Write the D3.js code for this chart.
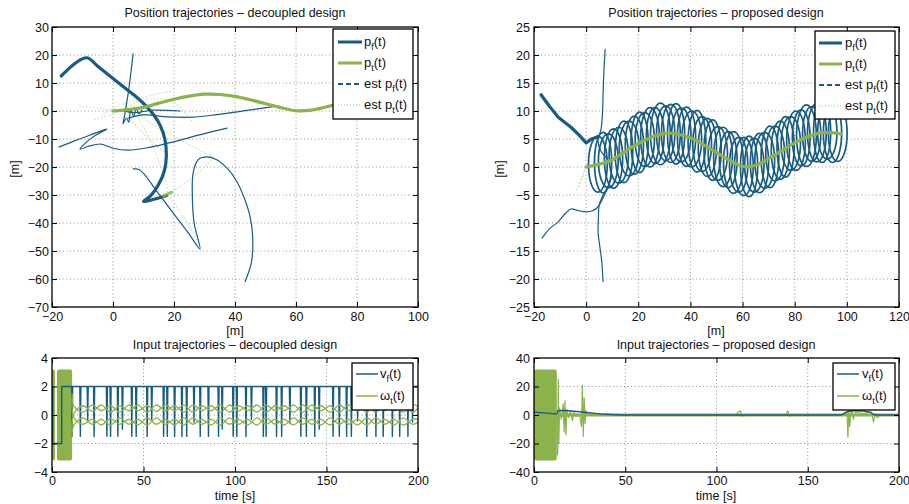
<!DOCTYPE html>
<html>
<head>
<meta charset="utf-8">
<script src="https://cdn.jsdelivr.net/npm/d3@7"></script>
<style>
body{margin:0;background:#fff;}
text{font-family:"Liberation Sans",Arial,Helvetica,sans-serif;fill:#111;}
</style>
</head>
<body>
<div id="plot"></div>
<script>
var blue = "#185c84", green = "#8cb24b", paleGreen = "#d3e2b0";

// ---- position data [m] ----
var ptX = [0,5,10,15,20,25,30,35,40,45,50,55,60,65,70,75,80,85,90,95,97.8];
var ptY = [0,0.5,1.3,2.8,4.2,5.3,6.0,5.9,5.2,4.0,2.6,1.2,0.1,0.3,1.5,2.9,4.3,5.4,6.1,6.1,5.9];

var decoupledPf = [[-17,12.5],[-15,14.6],[-13,16.5],[-11,18.1],[-8.5,19],[-4.5,15.5],[-1,12.5],[3,9],[7,5.6],[11,1.6],[13.5,-1.6],[15.5,-5.2],[17,-10],[17.5,-16],[16.8,-21.5],[14.8,-26.5],[12.3,-30.3],[10,-32.3],[12.5,-31.8],[15.3,-31],[17.6,-30.2]];
var decoupledEstPf = [
  [[6.6,20.4],[5.9,14],[5.2,8],[4.5,3],[3.9,-1],[3.3,-4.6],[4.4,-2.5],[5.2,-4],[5.8,0.5],[6.8,-2],[7.6,1.2],[8.4,-1],[9.5,0.3]],
  [[2.5,0.3],[7,-0.6],[13,0.3],[22,0]],
  [[5,-2.6],[10,-1.4],[18,-2.1],[26,-2.2],[34,-1.3],[44,0.2],[54,1.8]],
  [[-17.7,-12.9],[-12,-10.4],[-6,-8],[-2,-6.4],[-7,-9.6],[-10.8,-13.6],[-8,-12.6],[-4,-11.8],[0,-13.3],[5,-14],[12,-13],[20,-11],[28,-8.6],[37.4,-6.1]],
  [[6.6,-20.7],[8.5,-20.9],[10,-22.3],[15,-29.6],[20,-36.8],[25,-44],[28.5,-49.3],[26.6,-40],[26,-30],[26.3,-22],[28,-17.3],[31,-16.4],[34,-17.4],[37.5,-20.5],[40.5,-25],[43,-31],[45,-38],[45.8,-45],[45.4,-54],[43.3,-61]]
];
var decoupledEstPt = [
  [[-11,1.8],[-4,0.8],[2,0.2],[6,0]],
  [[-3,-1],[2,2],[8,4],[14,6],[19,7]],
  [[4,3],[6,-3],[10,-8],[14,-12],[17,-15]],
  [[6,2],[12,-4],[18,-8],[25,-12],[33,-16.7]],
  [[8,-2],[12,-10],[15,-18],[17,-24],[18,-30]],
  [[33,-16.7],[28,-22],[22,-27],[18,-30]],
  [[18,-30],[22,-36],[25,-41],[27.5,-46]],
  [[-6,-3],[0,-1],[4,1],[10,4],[20,3],[26,-4]]
];
var decoupledEstPtBlob = [[16.5,-30.4],[18,-29.6],[19.2,-29]];

var proposedPf = [[-17.3,12.9],[-14,10.8],[-10.7,8.9],[-5.8,7.1],[-2.5,5.6],[0,4.3],[2,5],[4.6,5.4]];
var proposedEstPf = [
  [[7.3,21],[6.8,17],[6.5,13],[6.2,9],[5.6,6.5],[4.5,5],[5.5,3],[8,1.5]],
  [[6.5,-20.5],[6,-17],[5.2,-14],[4.6,-11.8],[4.7,-9],[5,-6.8],[6.5,-5],[8.4,-3.5],[10,-1.5]],
  [[-16.9,-12.7],[-14,-11],[-10.7,-9.8],[-8,-8.3],[-5.8,-7.5],[-3,-7.8],[0,-8],[2.5,-7.8],[4.6,-7.1],[6.5,-5.5],[8.4,-3.5]]
];
var proposedEstPt = [[[-3.8,-4.1],[-1.5,-1.6],[0.5,0.4],[1.9,1.3]],[[-2.5,-3.5],[-0.5,-0.5],[1,0.5]]];
// follower loops around the target path
var loopX = [4.5,6.5,8.5,10.5,12.5,14.5,16.5,18.5,20.5,22.5,24.5,26.5,28.5,30.5,32.5,34.5,36.5,38.5,40.5,42.5,44.5,46.5,48.5,50.5,52.5,54.5,56.5,58.5,60.5,62.5,64.5,66.5,68.5,70.5,72.5,74.5,76.5,78.5,80.5,82.5,84.5,86.5,88.5,90.5,92.5,94.5,96.5];
var loopY = [0.5,0.8,1.1,1.5,2.1,2.7,3.3,3.9,4.4,4.9,5.3,5.6,5.9,6.0,6.0,5.9,5.7,5.4,5.0,4.6,4.1,3.5,3.0,2.4,1.8,1.3,0.8,0.4,0.1,0.1,0.3,0.7,1.2,1.8,2.4,3.0,3.6,4.2,4.7,5.2,5.6,5.9,6.1,6.2,6.2,6.1,6.0];
var loopRy = [5.0,5.4,4.8,5.3,5.0,5.5,4.9,5.2,5.4,4.8,5.3,5.0,5.5,4.9,5.2,5.4,4.8,5.3,5.0,5.5,4.9,5.2,5.4,4.8,5.3,5.0,5.5,4.9,5.2,5.4,4.8,5.3,5.0,5.5,4.9,5.2,5.4,4.8,5.3,5.0,5.5,4.9,5.2,5.4,4.8,5.3,5.0];
var loopRx = [3.6,3.3,3.8,3.5,3.7,3.4,3.8,3.5,3.3,3.7,3.6,3.4,3.8,3.5,3.6,3.3,3.7,3.5,3.8,3.4,3.6,3.5,3.3,3.7,3.6,3.4,3.8,3.5,3.6,3.3,3.7,3.5,3.8,3.4,3.6,3.5,3.3,3.7,3.6,3.4,3.8,3.5,3.6,3.3,3.7,3.5,3.6];

// ---- input data ----
var decoupledBlocks = [[0,1.6],[2.7,11]];
var decoupledOmegaAmp = 3.2;
var vfStart = [[0,2],[0.4,2],[0.4,-2],[5.3,-2],[5.3,2],[10.3,2]];
var vfSpikeT = [11,15.5,19.5,23,30,32,36,38.5,43.6,46,52,54.5,61,63,67,71,73.6,77.6,81,85.5,91,93,99,101,106,109,115.5,117,122.7,125.5,130,136,139,143.6,146,153.6,157,161,163.6,167,172,177,181,186,190,194.5,197];
var vfSpikeDepth = [-1.5,-1.5,-0.4,-1.5,-1.5,-1.5,-1.5,-1.0,-1.5,-1.5,-1.5,-0.3,-1.5,-1.5,-1.5,-1.5,-1.5,-0.5,-1.5,-1.5,-1.5,-1.0,-1.5,-1.5,-1.5,-0.3,-1.5,-1.5,-1.5,-1.5,-0.6,-1.5,-1.5,-1.5,-1.0,-1.5,-1.5,-1.5,-1.5,-0.4,-1.5,-1.5,-1.5,-1.5,-1.5,-1.5,-0.5];
var omegaT = [11,12,17,22,27,32,37,42,47,52,57,62,67,72,77,82,87,92,97,102,107,112,117,122,127,132,137,142,147,152,157,162,167,172,177,182,187,192,197,200];
var omegaA = [1.5,0.6,0.2,0.7,0.3,0.65,0.2,0.7,0.3,0.65,0.25,0.7,0.3,0.7,0.2,0.65,0.3,0.7,0.2,0.65,0.3,0.7,0.2,0.65,0.3,0.7,0.2,0.7,0.3,0.65,0.2,0.7,0.3,0.65,0.2,0.7,0.3,0.65,0.2,0.5];
var omegaB = [-1.5,0.1,0.65,0.25,0.7,0.2,0.65,0.3,0.7,0.2,0.7,0.3,0.65,0.2,0.7,0.3,0.65,0.2,0.7,0.3,0.65,0.2,0.7,0.3,0.65,0.2,0.7,0.3,0.65,0.2,0.7,0.3,0.65,0.2,0.7,0.3,0.65,0.2,0.7,0.6];
var omegaC = [1.2,-0.2,-0.65,-0.3,-0.7,-0.25,-0.65,-0.3,-0.7,-0.2,-0.65,-0.3,-0.7,-0.2,-0.65,-0.3,-0.7,-0.2,-0.65,-0.3,-0.7,-0.2,-0.65,-0.3,-0.7,-0.2,-0.65,-0.3,-0.7,-0.2,-0.65,-0.3,-0.7,-0.2,-0.65,-0.3,-0.7,-0.2,-0.65,-0.5];
var omegaD = [-1.2,-0.7,-0.2,-0.65,-0.3,-0.7,-0.2,-0.65,-0.3,-0.7,-0.2,-0.65,-0.3,-0.7,-0.2,-0.65,-0.3,-0.7,-0.2,-0.65,-0.3,-0.7,-0.2,-0.65,-0.3,-0.7,-0.2,-0.65,-0.3,-0.7,-0.2,-0.65,-0.3,-0.7,-0.2,-0.65,-0.3,-0.7,-0.3,-0.3];

var proposedBlock = [0,12.5];
var proposedOmegaAmp = 32;
var proposedOmega = [[12.5,0],[13,-28],[13.3,25],[13.6,-20],[14,5],[15,-3],[16,8],[16.5,-12],[17,10],[17.5,-14],[18,4],[19,-2],[20,3],[21,-4],[22,2],[23,-1],[25,0],[26,-8],[26.5,21],[27,-15],[27.5,12],[28,-6],[28.5,3],[29,0],[110,0],[113,3],[114,-1],[115,0],[138,0],[139,3],[140,-1],[141,0],[170,0],[171.5,2],[172,-15.5],[172.5,3],[173,-8],[174,5],[175,-3],[176,2],[180,1],[185,2],[186,-5],[187,1],[188,-2],[190,0],[200,0]];
var proposedOmegaBand = [[12.5,1.2],[30,1],[200,1]];
var proposedVf = [[0,2],[5,1.5],[10,1],[12.5,0.8],[13,3],[16,3.2],[20,2.8],[25,2.3],[30,1.6],[35,1],[40,0.5],[45,0.2],[50,0],[168,0],[172,2.5],[176,3],[180,2.8],[184,2],[187,0],[200,0]];

var timeTicks = [0,50,100,150,200];

var svg = d3.select("#plot").append("svg").attr("width", 909).attr("height", 504);
var clipId = 0;

function panel(left, top, w, h, xDom, yDom, xTicks, yTicks) {
  var g = svg.append("g").attr("transform", "translate(" + left + "," + top + ")");
  var x = d3.scaleLinear().domain(xDom).range([0, w]);
  var y = d3.scaleLinear().domain(yDom).range([h, 0]);
  g.append("rect").attr("width", w).attr("height", h).attr("fill", "#fff");
  var grid = g.append("g").attr("stroke", "#777").attr("stroke-width", 0.8).attr("stroke-dasharray", "1,2.6");
  grid.selectAll(".gx").data(xTicks.slice(1, -1)).enter().append("line")
    .attr("x1", function(d){ return x(d); }).attr("x2", function(d){ return x(d); })
    .attr("y1", 0).attr("y2", h);
  grid.selectAll(".gy").data(yTicks.slice(1, -1)).enter().append("line")
    .attr("y1", function(d){ return y(d); }).attr("y2", function(d){ return y(d); })
    .attr("x1", 0).attr("x2", w);
  clipId++;
  g.append("clipPath").attr("id", "c" + clipId).append("rect").attr("width", w).attr("height", h);
  var plot = g.append("g").attr("clip-path", "url(#c" + clipId + ")");
  return {g: g, plot: plot, x: x, y: y, w: w, h: h, xTicks: xTicks, yTicks: yTicks};
}

function axes(p, xPad, yPad) {
  var fmt = d3.format("d");
  var bx = p.g.append("g").attr("transform", "translate(0," + p.h + ")")
    .call(d3.axisBottom(p.x).tickValues(p.xTicks).tickSizeInner(-5).tickSizeOuter(0).tickPadding(xPad).tickFormat(fmt));
  var ly = p.g.append("g")
    .call(d3.axisLeft(p.y).tickValues(p.yTicks).tickSizeInner(-5).tickSizeOuter(0).tickPadding(yPad).tickFormat(fmt));
  var tx = p.g.append("g")
    .call(d3.axisTop(p.x).tickValues(p.xTicks).tickSizeInner(-5).tickSizeOuter(0).tickFormat(""));
  var ry = p.g.append("g").attr("transform", "translate(" + p.w + ",0)")
    .call(d3.axisRight(p.y).tickValues(p.yTicks).tickSizeInner(-5).tickSizeOuter(0).tickFormat(""));
  [bx, ly, tx, ry].forEach(function(a){
    a.select(".domain").remove();
    a.selectAll("line").attr("stroke", "#000");
    a.selectAll("text").style("font-size", "12.5px").attr("fill", "#111")
      .style("font-family", "'Liberation Sans', Arial, sans-serif");
  });
  p.g.append("rect").attr("width", p.w).attr("height", p.h)
    .attr("fill", "none").attr("stroke", "#000").attr("stroke-width", 1.3);
}

function pathOn(p, pts, color, width, curve) {
  var line = d3.line().x(function(d){ return p.x(d[0]); }).y(function(d){ return p.y(d[1]); })
    .curve(curve || d3.curveLinear);
  return p.plot.append("path").attr("d", line(pts)).attr("fill", "none")
    .attr("stroke", color).attr("stroke-width", width)
    .attr("stroke-linejoin", "round").attr("stroke-linecap", "round");
}

function legend(x0, y0, w, h, rows, lineX0, lineX1, textX, fontSize) {
  var lg = svg.append("g");
  lg.append("rect").attr("x", x0).attr("y", y0).attr("width", w).attr("height", h)
    .attr("fill", "#fff").attr("stroke", "#000").attr("stroke-width", 1.3);
  rows.forEach(function(r){
    lg.append("line").attr("x1", lineX0).attr("x2", lineX1).attr("y1", r.y).attr("y2", r.y)
      .attr("stroke", r.color).attr("stroke-width", r.width)
      .attr("stroke-dasharray", r.dash || null);
    var t = lg.append("text").attr("x", textX).attr("y", r.y + 4).style("font-size", fontSize + "px");
    t.append("tspan").text(r.text[0]);
    t.append("tspan").attr("dy", 4).style("font-size", (fontSize - 4) + "px").text(r.text[1]);
    t.append("tspan").attr("dy", -4).text(r.text[2]);
  });
}

function title(x, y, str) {
  svg.append("text").attr("x", x).attr("y", y).attr("text-anchor", "middle")
    .style("font-size", "12.5px").text(str);
}

// ---------- top left ----------
var tl = panel(52, 27, 366, 280, [-20, 100], [-70, 30],
  [-20,0,20,40,60,80,100], [-70,-60,-50,-40,-30,-20,-10,0,10,20,30]);
decoupledEstPt.forEach(function(s){ pathOn(tl, s, paleGreen, 1.1, d3.curveCatmullRom).attr("stroke-dasharray", "1,2.5"); });
decoupledEstPf.forEach(function(s){ pathOn(tl, s, blue, 1.2, d3.curveCatmullRom); });
pathOn(tl, decoupledPf, blue, 3.2, d3.curveCatmullRom);
pathOn(tl, d3.zip(ptX, ptY), green, 3.2, d3.curveCatmullRom);
pathOn(tl, decoupledEstPtBlob, green, 3, d3.curveLinear).attr("stroke-opacity", 0.8);
axes(tl, 5, 3);

// ---------- top right ----------
var tr = panel(534, 27, 365, 280, [-20, 120], [-25, 25],
  [-20,0,20,40,60,80,100,120], [-25,-20,-15,-10,-5,0,5,10,15,20,25]);
proposedEstPt.forEach(function(s){ pathOn(tr, s, paleGreen, 1.1).attr("stroke-dasharray", "1,2.5"); });
proposedEstPf.forEach(function(s){ pathOn(tr, s, blue, 1.2, d3.curveCatmullRom); });
tr.plot.append("g").selectAll("ellipse").data(d3.range(loopX.length)).enter().append("ellipse")
  .attr("cx", function(i){ return tr.x(loopX[i]); })
  .attr("cy", function(i){ return tr.y(loopY[i]); })
  .attr("rx", function(i){ return tr.x(loopRx[i]) - tr.x(0); })
  .attr("ry", function(i){ return tr.y(0) - tr.y(loopRy[i]); })
  .attr("fill", "none").attr("stroke", blue).attr("stroke-width", 1.7);
pathOn(tr, proposedPf, blue, 3.2);
pathOn(tr, d3.zip(ptX, ptY), green, 3.2, d3.curveCatmullRom);
axes(tr, 5, 4);

// ---------- bottom left ----------
var bl = panel(52, 358, 366, 114, [0, 200], [-4, 4], timeTicks, [-4,-2,0,2,4]);
bl.plot.append("g").selectAll("rect").data(decoupledBlocks).enter().append("rect")
  .attr("x", function(d){ return bl.x(d[0]); })
  .attr("width", function(d){ return bl.x(d[1]) - bl.x(d[0]); })
  .attr("y", bl.y(decoupledOmegaAmp))
  .attr("height", bl.y(-decoupledOmegaAmp) - bl.y(decoupledOmegaAmp))
  .attr("rx", 2).attr("fill", green);
var vfPts = vfStart.slice();
vfSpikeT.forEach(function(t, i){
  vfPts.push([t - 0.3, 2], [t, vfSpikeDepth[i]], [t + 0.3, 2]);
});
vfPts.push([200, 2]);
pathOn(bl, vfPts, blue, 1.4);
[omegaA, omegaB, omegaC, omegaD].forEach(function(s){
  pathOn(bl, d3.zip(omegaT, s), green, 1.3, d3.curveCatmullRom);
});
axes(bl, 4, 4);

// ---------- bottom right ----------
var br = panel(534, 358, 365, 114, [0, 200], [-40, 40], timeTicks, [-40,-20,0,20,40]);
br.plot.append("rect")
  .attr("x", br.x(proposedBlock[0])).attr("width", br.x(proposedBlock[1]) - br.x(proposedBlock[0]))
  .attr("y", br.y(proposedOmegaAmp)).attr("height", br.y(-proposedOmegaAmp) - br.y(proposedOmegaAmp))
  .attr("rx", 2).attr("fill", green);
br.plot.append("path")
  .attr("d", d3.area().x(function(d){ return br.x(d[0]); })
    .y0(function(d){ return br.y(-d[1]); }).y1(function(d){ return br.y(d[1]); })(proposedOmegaBand))
  .attr("fill", green);
pathOn(br, proposedOmega, green, 1.2);
pathOn(br, proposedVf, blue, 1.4, d3.curveMonotoneX);
axes(br, 4, 4);

// ---------- texts ----------
title(235, 17, "Position trajectories \u2013 decoupled design");
title(716, 17, "Position trajectories \u2013 proposed design");
title(235, 349, "Input trajectories \u2013 decoupled design");
title(716, 349, "Input trajectories \u2013 proposed design");
title(235, 335, "[m]");
title(716, 335, "[m]");
title(235, 500, "time [s]");
title(716, 500, "time [s]");
svg.append("text").attr("transform", "translate(19,169) rotate(-90)").attr("text-anchor", "middle")
  .style("font-size", "12.5px").text("[m]");
svg.append("text").attr("transform", "translate(504,169) rotate(-90)").attr("text-anchor", "middle")
  .style("font-size", "12.5px").text("[m]");

// ---------- legends ----------
var posRows = function(y0){
  return [
    {y: y0, color: blue, width: 3, text: ["p", "f", "(t)"]},
    {y: y0 + 21, color: green, width: 3, text: ["p", "t", "(t)"]},
    {y: y0 + 42, color: blue, width: 2, dash: "5,3", text: ["est p", "f", "(t)"]},
    {y: y0 + 63, color: paleGreen, width: 2, dash: "1,2", text: ["est p", "t", "(t)"]}
  ];
};
legend(333, 29, 80, 90, posRows(42), 338, 362, 364, 13);
legend(815, 31, 80, 88, posRows(43), 819, 842, 845, 13);
var inRows = function(y0){
  return [
    {y: y0, color: blue, width: 1.5, text: ["v", "f", "(t)"]},
    {y: y0 + 22, color: green, width: 1.5, text: ["\u03c9", "t", "(t)"]}
  ];
};
legend(352, 363, 61, 47, inRows(374), 356, 378, 380, 13);
legend(833, 363, 62, 47, inRows(374), 837, 859, 862, 13);
</script>
</body>
</html>
